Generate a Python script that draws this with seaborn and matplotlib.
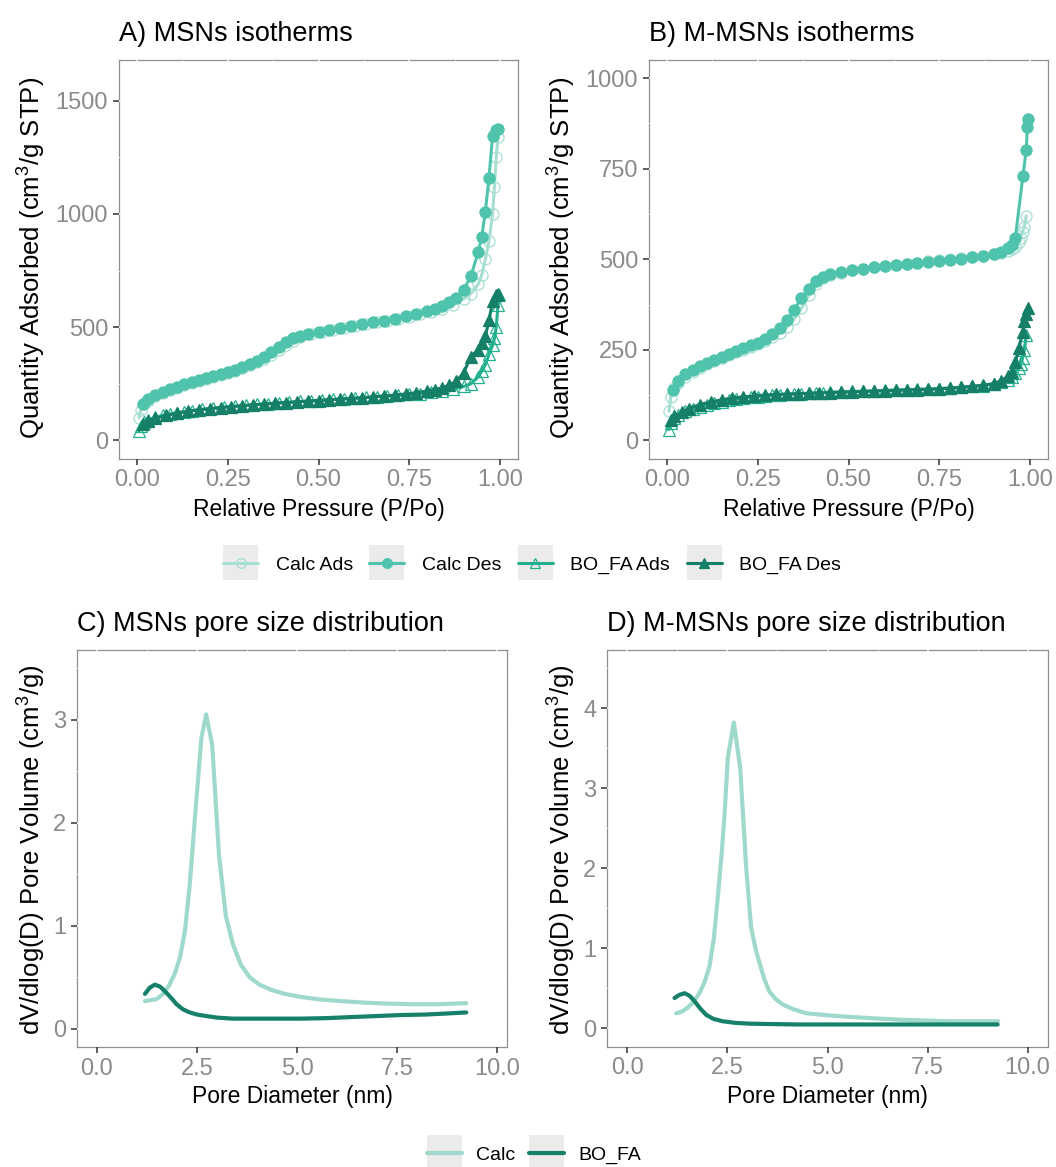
import numpy as np
import pandas as pd
import matplotlib
matplotlib.use("Agg")
import matplotlib.pyplot as plt
import seaborn as sns
from matplotlib.lines import Line2D
from matplotlib.patches import Rectangle
from matplotlib.legend_handler import HandlerLine2D
from matplotlib.ticker import MultipleLocator, AutoMinorLocator, FormatStrFormatter

sns.set_theme(style="white")
plt.rcParams["font.family"] = ["Liberation Sans", "DejaVu Sans"]
plt.rcParams["mathtext.fontset"] = "custom"
plt.rcParams["mathtext.rm"] = "Liberation Sans"
plt.rcParams["mathtext.it"] = "Liberation Sans:italic"
plt.rcParams["mathtext.default"] = "regular"
plt.rcParams["text.color"] = "black"

# ---------------- isotherm data: MSNs (panel A) ----------------
a_calc_ads_p = [0.005, 0.01, 0.02, 0.03, 0.05, 0.07, 0.09, 0.11, 0.13, 0.15, 0.17, 0.19, 0.21, 0.23,
                0.25, 0.27, 0.29, 0.31, 0.33, 0.35, 0.37, 0.39, 0.41, 0.43, 0.45, 0.48, 0.51, 0.54,
                0.57, 0.60, 0.63, 0.66, 0.69, 0.72, 0.75, 0.78, 0.81, 0.84, 0.87, 0.90, 0.92, 0.94,
                0.95, 0.96, 0.97, 0.98, 0.985, 0.99, 0.995]
a_calc_ads_q = [100, 135, 160, 175, 195, 210, 222, 233, 243, 252, 261, 270, 279, 288,
                298, 308, 319, 331, 344, 359, 378, 400, 422, 441, 455, 469, 480, 489,
                497, 505, 513, 521, 529, 537, 546, 556, 567, 581, 600, 625, 648, 690,
                730, 800, 880, 1000, 1120, 1250, 1340]

a_calc_des_p = [0.995, 0.99, 0.98, 0.97, 0.96, 0.95, 0.94, 0.92, 0.90, 0.88, 0.86, 0.84, 0.82, 0.80,
                0.77, 0.74, 0.71, 0.68, 0.65, 0.62, 0.59, 0.56, 0.53, 0.50, 0.47, 0.45, 0.43, 0.41,
                0.39, 0.37, 0.35, 0.33, 0.31, 0.29, 0.27, 0.25, 0.23, 0.21, 0.19, 0.17, 0.15, 0.13,
                0.11, 0.09, 0.07, 0.05, 0.03, 0.015]
a_calc_des_q = [1375, 1370, 1345, 1160, 1010, 900, 830, 725, 665, 630, 610, 594, 582, 572,
                560, 548, 538, 529, 521, 513, 505, 497, 489, 480, 470, 462, 451, 433,
                412, 390, 370, 352, 337, 324, 312, 302, 292, 283, 274, 265, 256, 247,
                237, 226, 214, 200, 182, 160]

a_bofa_ads_p = [0.005, 0.01, 0.02, 0.03, 0.05, 0.07, 0.09, 0.11, 0.13, 0.15, 0.18, 0.21, 0.24, 0.27,
                0.30, 0.33, 0.36, 0.39, 0.42, 0.45, 0.48, 0.51, 0.54, 0.57, 0.60, 0.63, 0.66, 0.69,
                0.72, 0.75, 0.78, 0.81, 0.84, 0.87, 0.90, 0.92, 0.94, 0.95, 0.96, 0.97, 0.98, 0.985,
                0.99, 0.995, 0.998]
a_bofa_ads_q = [40, 62, 80, 90, 102, 110, 117, 122, 127, 131, 137, 142, 147, 151,
                155, 159, 162, 166, 169, 172, 175, 178, 181, 184, 187, 190, 193, 196,
                199, 203, 207, 212, 218, 226, 238, 250, 280, 305, 335, 380, 420, 450,
                500, 600, 640]

a_bofa_des_p = [0.995, 0.99, 0.98, 0.97, 0.96, 0.95, 0.94, 0.92, 0.90, 0.88, 0.86, 0.84, 0.82, 0.80,
                0.77, 0.74, 0.71, 0.68, 0.65, 0.62, 0.59, 0.56, 0.53, 0.50, 0.47, 0.44, 0.41, 0.38,
                0.35, 0.32, 0.29, 0.26, 0.23, 0.20, 0.17, 0.14, 0.11, 0.08, 0.05, 0.03, 0.015]
a_bofa_des_q = [645, 640, 615, 530, 460, 430, 400, 370, 298, 262, 243, 232, 224, 218,
                211, 205, 200, 196, 192, 188, 185, 182, 179, 176, 173, 170, 167, 164,
                160, 157, 153, 149, 145, 140, 135, 128, 120, 110, 97, 85, 72]

# ---------------- isotherm data: M-MSNs (panel B) ----------------
b_calc_ads_p = [0.005, 0.01, 0.02, 0.03, 0.05, 0.07, 0.09, 0.11, 0.13, 0.15, 0.17, 0.19, 0.21, 0.23,
                0.25, 0.27, 0.29, 0.31, 0.33, 0.35, 0.37, 0.39, 0.41, 0.43, 0.45, 0.48, 0.51, 0.54,
                0.57, 0.60, 0.63, 0.66, 0.69, 0.72, 0.75, 0.78, 0.81, 0.84, 0.87, 0.90, 0.92, 0.94,
                0.95, 0.96, 0.97, 0.975, 0.98, 0.985, 0.99]
b_calc_ads_q = [80, 120, 145, 158, 176, 190, 200, 210, 219, 227, 235, 243, 250, 258,
                266, 275, 285, 297, 312, 335, 365, 400, 432, 448, 456, 463, 469, 474,
                478, 482, 485, 488, 491, 494, 497, 500, 503, 506, 510, 514, 518, 524,
                528, 535, 548, 560, 575, 590, 620]

b_calc_des_p = [0.995, 0.993, 0.99, 0.981, 0.96, 0.95, 0.94, 0.92, 0.90, 0.87, 0.84, 0.81, 0.78, 0.75,
                0.72, 0.69, 0.66, 0.63, 0.60, 0.57, 0.54, 0.51, 0.48, 0.45, 0.43, 0.41, 0.39, 0.37,
                0.35, 0.33, 0.31, 0.29, 0.27, 0.25, 0.23, 0.21, 0.19, 0.17, 0.15, 0.13, 0.11, 0.09,
                0.07, 0.05, 0.03, 0.015]
b_calc_des_q = [888, 865, 802, 731, 560, 540, 532, 520, 514, 509, 505, 502, 499, 496,
                493, 490, 487, 484, 481, 478, 474, 470, 465, 459, 452, 440, 418, 392,
                360, 332, 310, 293, 280, 270, 262, 254, 246, 238, 230, 222, 213, 204,
                194, 182, 165, 140]

b_bofa_ads_p = [0.005, 0.01, 0.02, 0.03, 0.05, 0.07, 0.09, 0.11, 0.13, 0.15, 0.17, 0.19, 0.21, 0.23,
                0.25, 0.27, 0.29, 0.31, 0.33, 0.35, 0.37, 0.39, 0.41, 0.43, 0.45, 0.48, 0.51, 0.54,
                0.57, 0.60, 0.63, 0.66, 0.69, 0.72, 0.75, 0.78, 0.81, 0.84, 0.87, 0.90, 0.92, 0.94,
                0.95, 0.96, 0.97, 0.975, 0.98, 0.985, 0.99]
b_bofa_ads_q = [30, 48, 62, 70, 80, 87, 93, 98, 103, 107, 111, 114, 117, 119,
                121, 123, 125, 126, 127, 128, 129, 130, 131, 132, 133, 134, 135, 136,
                137, 138, 139, 140, 141, 142, 143, 145, 147, 149, 151, 155, 160, 168,
                175, 185, 200, 212, 228, 250, 290]

b_bofa_des_p = [0.995, 0.99, 0.985, 0.98, 0.97, 0.96, 0.95, 0.94, 0.92, 0.90, 0.87, 0.84, 0.81, 0.78,
                0.75, 0.72, 0.69, 0.66, 0.63, 0.60, 0.57, 0.54, 0.51, 0.48, 0.45, 0.42, 0.39, 0.36,
                0.33, 0.30, 0.27, 0.24, 0.21, 0.18, 0.15, 0.12, 0.09, 0.06, 0.04, 0.02, 0.01]
b_bofa_des_q = [365, 350, 330, 300, 255, 215, 190, 177, 164, 157, 152, 149, 146, 144,
                142, 141, 140, 139, 138, 137, 136, 135, 134, 133, 132, 131, 130, 129,
                128, 127, 125, 123, 120, 117, 112, 106, 99, 88, 78, 66, 57]

# ---------------- pore size distributions ----------------
c_calc_d = [1.20, 1.35, 1.50, 1.65, 1.80, 1.95, 2.08, 2.20, 2.32, 2.45, 2.61, 2.73, 2.88, 3.05,
            3.22, 3.40, 3.60, 3.82, 4.06, 4.35, 4.70, 5.10, 5.60, 6.10, 6.70, 7.30, 7.90, 8.55, 9.23]
c_calc_v = [0.27, 0.28, 0.29, 0.34, 0.42, 0.54, 0.70, 0.95, 1.40, 2.05, 2.82, 3.05, 2.76, 1.69,
            1.10, 0.82, 0.62, 0.50, 0.43, 0.38, 0.34, 0.31, 0.285, 0.27, 0.255, 0.245, 0.24, 0.24, 0.25]
c_bofa_d = [1.20, 1.32, 1.45, 1.58, 1.74, 1.88, 1.99, 2.15, 2.32, 2.50, 2.65, 3.00, 3.40, 3.90,
            4.48, 5.10, 5.73, 6.35, 6.98, 7.60, 8.22, 8.75, 9.23]
c_bofa_v = [0.34, 0.40, 0.43, 0.41, 0.35, 0.29, 0.24, 0.19, 0.16, 0.14, 0.13, 0.11, 0.10, 0.10,
            0.10, 0.10, 0.105, 0.115, 0.125, 0.135, 0.14, 0.15, 0.16]

d_calc_d = [1.22, 1.36, 1.51, 1.65, 1.80, 1.93, 2.05, 2.16, 2.26, 2.36, 2.43, 2.51, 2.66, 2.82,
            2.97, 3.09, 3.20, 3.30, 3.42, 3.55, 3.70, 3.88, 4.15, 4.47, 5.00, 5.55, 6.20, 6.80,
            7.40, 8.05, 8.65, 9.26]
d_calc_v = [0.19, 0.21, 0.26, 0.33, 0.44, 0.58, 0.77, 1.12, 1.64, 2.20, 2.68, 3.38, 3.82, 3.25,
            2.00, 1.27, 1.00, 0.82, 0.62, 0.46, 0.37, 0.30, 0.24, 0.19, 0.165, 0.145, 0.125, 0.11,
            0.10, 0.09, 0.09, 0.09]
d_bofa_d = [1.18, 1.30, 1.43, 1.55, 1.68, 1.82, 1.97, 2.15, 2.38, 2.70, 3.05, 3.60, 4.30, 5.00,
            5.80, 6.60, 7.40, 8.30, 9.25]
d_bofa_v = [0.38, 0.42, 0.44, 0.41, 0.34, 0.25, 0.17, 0.12, 0.09, 0.07, 0.06, 0.055, 0.05, 0.05,
            0.05, 0.05, 0.05, 0.05, 0.05]

iso_labels = ["Calc Ads", "Calc Des", "BO_FA Ads", "BO_FA Des"]
psd_labels = ["Calc", "BO_FA"]

iso_style = {
    "Calc Ads":  dict(color="#a6ded1", marker="o", mfc="none", ms=8.0),
    "Calc Des":  dict(color="#4fc3ab", marker="o", mfc="#4fc3ab", ms=8.0),
    "BO_FA Ads": dict(color="#22b08f", marker="^", mfc="none", ms=8.6),
    "BO_FA Des": dict(color="#167f67", marker="^", mfc="#167f67", ms=8.6),
}
psd_palette = {"Calc": "#9fd9cc", "BO_FA": "#16806a"}

W, H = 1056, 1167
fig = plt.figure(figsize=(W / 100, H / 100), dpi=100)


def rect(left, right, top, bottom):
    return [left / W, 1 - bottom / H, (right - left) / W, (bottom - top) / H]


def style_axes(ax, xlim, ylim, xmajor, ymajor, xfmt):
    ax.set_xlim(*xlim)
    ax.set_ylim(*ylim)
    ax.xaxis.set_major_locator(MultipleLocator(xmajor))
    ax.yaxis.set_major_locator(MultipleLocator(ymajor))
    ax.xaxis.set_minor_locator(AutoMinorLocator(2))
    ax.yaxis.set_minor_locator(AutoMinorLocator(2))
    ax.xaxis.set_major_formatter(FormatStrFormatter(xfmt))
    ax.yaxis.set_major_formatter(FormatStrFormatter("%g"))
    ax.set_facecolor("white")
    # white grid sits on top of the grey frame, underneath the data
    ax.set_axisbelow(True)
    ax.grid(True, which="major", color="white", lw=1.1)
    ax.grid(True, which="minor", color="white", lw=0.6)
    for sp in ax.spines.values():
        sp.set_visible(True)
        sp.set_color("#8f8f8f")
        sp.set_linewidth(0.9)
        sp.set_zorder(0.2)
    ax.tick_params(axis="both", which="major", direction="out", length=4.3, width=1.1,
                   color="#333333", labelcolor="#8a8a8a", labelsize=17, pad=3.5,
                   bottom=True, left=True, top=False, right=False)
    ax.tick_params(axis="both", which="minor", length=0)


def iso_panel(ax, series):
    for name, (p, q) in zip(iso_labels, series):
        st = iso_style[name]
        frame = pd.DataFrame({"P": p, "Q": q})
        sns.lineplot(data=frame, x="P", y="Q", ax=ax, sort=False, estimator=None,
                     color=st["color"], lw=2.2, marker=st["marker"], markersize=st["ms"],
                     markerfacecolor=st["mfc"], markeredgecolor=st["color"],
                     markeredgewidth=0.9, legend=False)


def psd_panel(ax, calc, bofa):
    frame = pd.concat([
        pd.DataFrame({"D": calc[0], "V": calc[1], "sample": "Calc"}),
        pd.DataFrame({"D": bofa[0], "V": bofa[1], "sample": "BO_FA"}),
    ], ignore_index=True)
    sns.lineplot(data=frame, x="D", y="V", hue="sample", hue_order=psd_labels,
                 palette=psd_palette, ax=ax, sort=False, estimator=None, lw=3.0,
                 legend=False)


# ---- panel A
axA = fig.add_axes(rect(119, 518, 60, 458.5))
iso_panel(axA, [(a_calc_ads_p, a_calc_ads_q), (a_calc_des_p, a_calc_des_q),
                (a_bofa_ads_p, a_bofa_ads_q), (a_bofa_des_p, a_bofa_des_q)])
style_axes(axA, (-0.05, 1.05), (-80, 1680), 0.25, 500, "%.2f")

# ---- panel B
axB = fig.add_axes(rect(649, 1048, 60, 458.5))
iso_panel(axB, [(b_calc_ads_p, b_calc_ads_q), (b_calc_des_p, b_calc_des_q),
                (b_bofa_ads_p, b_bofa_ads_q), (b_bofa_des_p, b_bofa_des_q)])
style_axes(axB, (-0.05, 1.05), (-50, 1050), 0.25, 250, "%.2f")

# ---- panel C
axC = fig.add_axes(rect(77.3, 506.7, 650, 1047))
psd_panel(axC, (c_calc_d, c_calc_v), (c_bofa_d, c_bofa_v))
style_axes(axC, (-0.49, 10.24), (-0.175, 3.675), 2.5, 1, "%.1f")

# ---- panel D
axD = fig.add_axes(rect(607.3, 1047.7, 650, 1046.5))
psd_panel(axD, (d_calc_d, d_calc_v), (d_bofa_d, d_bofa_v))
style_axes(axD, (-0.5, 10.5), (-0.225, 4.725), 2.5, 1, "%.1f")

# ---- titles and axis labels
titles = [(axA, "A) MSNs isotherms"), (axB, "B) M-MSNs isotherms"),
          (axC, "C) MSNs pore size distribution"), (axD, "D) M-MSNs pore size distribution")]
for ax, t in titles:
    ax.set_title(t, loc="left", fontsize=19.5, color="black", pad=14)

for ax, lab in [(axA, "Relative Pressure (P/Po)"), (axB, "Relative Pressure (P/Po)"),
                (axC, "Pore Diameter (nm)"), (axD, "Pore Diameter (nm)")]:
    ax.set_xlabel(lab, fontsize=16.5, color="black")
    ax.xaxis.label.set_verticalalignment("center")

axA.xaxis.set_label_coords(0.5, -(509.5 - 458.5) / (458.5 - 60))
axB.xaxis.set_label_coords(0.5, -(509.5 - 458.5) / (458.5 - 60))
axC.xaxis.set_label_coords(0.5, -(1097 - 1047) / (1047 - 650))
axD.xaxis.set_label_coords(0.5, -(1097 - 1046.5) / (1046.5 - 650))

iso_ylabel = r"Quantity Adsorbed (cm$^{3}$/g STP)"
psd_ylabel = r"dV/dlog(D) Pore Volume (cm$^{3}$/g)"
for ax, lab, xpix, left, right, ycen, top, bottom in [
        (axA, iso_ylabel, 32, 119, 518, 258, 60, 458.5),
        (axB, iso_ylabel, 562, 649, 1048, 258, 60, 458.5),
        (axC, psd_ylabel, 32, 77.3, 506.7, 850, 650, 1047),
        (axD, psd_ylabel, 562, 607.3, 1047.7, 850, 650, 1046.5)]:
    ax.set_ylabel(lab, fontsize=18.5, color="black")
    ax.yaxis.label.set_verticalalignment("center")
    ax.yaxis.set_label_coords((xpix - left) / (right - left), (bottom - ycen) / (bottom - top))


# ---- legends with grey key boxes
class BoxedKey(HandlerLine2D):
    def create_artists(self, legend, orig_handle, xdescent, ydescent, width, height,
                       fontsize, trans):
        arts = super().create_artists(legend, orig_handle, xdescent, ydescent, width,
                                      height, fontsize, trans)
        cy = (height - ydescent) / 2
        box = Rectangle((-xdescent, cy - width / 2), width, width, facecolor="#ebebeb",
                        edgecolor="none", transform=trans)
        return [box] + list(arts)


iso_handles = [Line2D([], [], color=iso_style[n]["color"], lw=2.2, marker=iso_style[n]["marker"],
                      markersize=7, markerfacecolor=iso_style[n]["mfc"],
                      markeredgecolor=iso_style[n]["color"], markeredgewidth=0.9)
               for n in iso_labels]
fig.legend(iso_handles, iso_labels, loc="center", bbox_to_anchor=(532 / W, 1 - 565 / H),
           ncol=4, frameon=False, fontsize=14, handlelength=1.8, handletextpad=0.9,
           columnspacing=0.85, numpoints=1, labelcolor="black",
           handler_map={Line2D: BoxedKey()})

psd_handles = [Line2D([], [], color=psd_palette[n], lw=3.0) for n in psd_labels]
fig.legend(psd_handles, psd_labels, loc="center", bbox_to_anchor=(534 / W, 1 - 1155 / H),
           ncol=2, frameon=False, fontsize=14, handlelength=1.8, handletextpad=0.75,
           columnspacing=0.7, labelcolor="black", handler_map={Line2D: BoxedKey()})

fig.savefig("out.png", dpi=100, facecolor="white")
